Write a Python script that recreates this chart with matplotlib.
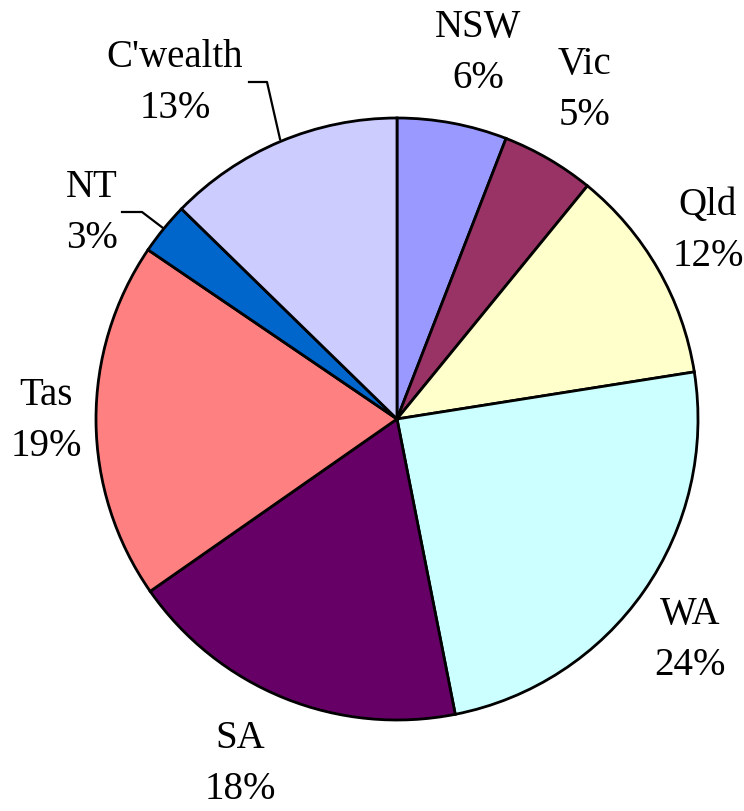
import matplotlib

matplotlib.use("Agg")
import matplotlib.pyplot as plt

# Share by jurisdiction (%), clockwise from 12 o'clock
regions = ["NSW", "Vic", "Qld", "WA", "SA", "Tas", "NT", "C'wealth"]
shares = [5.9, 5.0, 11.6, 24.4, 18.4, 19.2, 2.8, 12.7]
colors = ["#9999FF", "#993366", "#FFFFCC", "#CCFFFF", "#660066",
          "#FF8080", "#0066CC", "#CCCCFF"]

# label block centres in pixel coords (x from left, y from top)
label_pos = [(478, 53), (585, 90), (708, 231), (690, 640), (240, 764),
             (46, 421), (92, 213), (175, 83)]

W, H = 744, 812
plt.rcParams["font.family"] = ["Liberation Serif", "DejaVu Serif"]

fig = plt.figure(figsize=(W / 100, H / 100), dpi=100)
ax = fig.add_axes([0, 0, 1, 1])
ax.axis("off")

ax.pie(
    shares,
    colors=colors,
    startangle=90,
    counterclock=False,
    center=(397, H - 420),
    radius=301,
    wedgeprops=dict(edgecolor="black", linewidth=2.0),
)
ax.set_xlim(0, W)
ax.set_ylim(0, H)
ax.set_aspect("equal")

for name, val, (x, y) in zip(regions, shares, label_pos):
    ax.text(x, H - y, f"{name}\n{round(val)}%", ha="center", va="center",
            fontsize=28, linespacing=1.5)

# leader lines for the small slices
leaders = [
    [(249, 83), (267, 83), (280, 140)],
    [(122, 213), (142, 213), (163, 229)],
]
for pts in leaders:
    xs = [p[0] for p in pts]
    ys = [H - p[1] for p in pts]
    ax.plot(xs, ys, color="black", linewidth=1.6)

fig.savefig("out.png", dpi=100)
plt.close(fig)
